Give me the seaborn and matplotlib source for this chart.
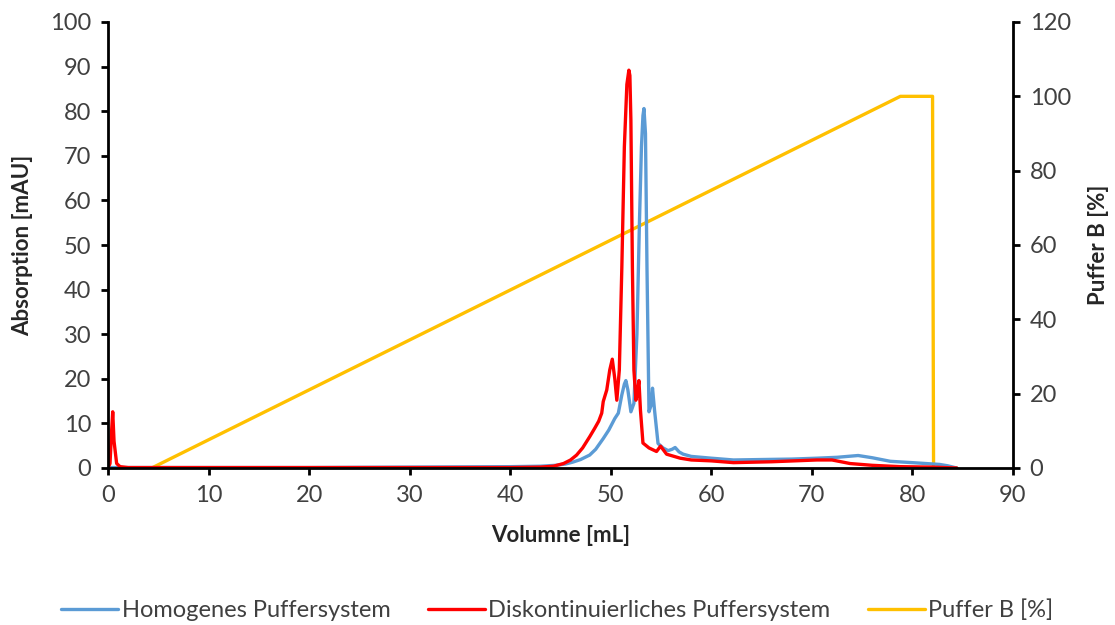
import matplotlib
matplotlib.use("Agg")
import matplotlib.pyplot as plt
import seaborn as sns
import pandas as pd

# ---- data ----
blue_x = [0, 1, 10, 20, 30, 40, 43, 44.5, 45.5, 46.2, 47.0, 47.9, 48.5, 49.25, 49.8,
          50.4, 50.75, 51.1, 51.35, 51.5, 51.7, 52.0, 52.3, 52.6, 52.85, 53.05, 53.2,
          53.3, 53.45, 53.6, 53.8, 54.0, 54.15, 54.35, 54.7, 55.2, 55.7, 56.1, 56.4,
          56.8, 57.2, 58.0, 60, 62.2, 65, 68, 70.5, 72.5, 74.6, 76, 77.8, 80, 82.7,
          83.5, 84.4]
blue_y = [0.1, 0.1, 0.1, 0.1, 0.2, 0.3, 0.4, 0.6, 0.9, 1.3, 1.9, 2.9, 4.2, 6.6, 8.5,
          11.1, 12.3, 16.4, 18.8, 19.6, 17.5, 12.6, 14.5, 30, 55, 72, 79,
          80.6, 75, 45, 12.6, 14, 17.9, 13, 5.5, 4.5, 3.9, 4.2, 4.6,
          3.6, 3.1, 2.6, 2.2, 1.8, 1.9, 2.0, 2.2, 2.4, 2.8, 2.3, 1.5, 1.2, 0.8,
          0.5, 0]

red_x = [0, 0.2, 0.35, 0.47, 0.6, 0.86, 1.2, 2, 10, 20, 30, 40, 43, 44.3, 45.3,
         46.0, 46.6, 47.2, 47.9, 48.4, 48.8, 49.1, 49.25, 49.6, 49.9, 50.15, 50.4,
         50.6, 50.85, 51.1, 51.35, 51.6, 51.8, 51.9, 52.0, 52.15, 52.3, 52.5, 52.65,
         52.8, 52.95, 53.2, 53.8, 54.55, 54.95, 55.55, 56.9, 58, 60, 62.2, 66, 70.5,
         72, 73.8, 76, 78.8, 82, 84.4]
red_y = [0, 1, 8, 12.6, 6, 1, 0.3, 0.1, 0.1, 0.1, 0.1, 0.1, 0.2, 0.4, 1.0,
         1.8, 2.9, 4.5, 7.0, 8.9, 10.5, 12.3, 14.9, 17.5, 22, 24.4, 20,
         15.2, 22, 45, 72, 86, 89.2, 88, 78, 45, 22, 15.2, 17,
         19.6, 13, 5.6, 4.5, 3.7, 4.9, 3.1, 2.2, 1.8, 1.6, 1.2, 1.4, 1.8,
         1.8, 1.0, 0.6, 0.3, 0.2, 0]

puffer_x = [0, 4.35, 78.8, 82.0, 82.1, 84.4]
puffer_y = [0, 0, 100, 100, 0, 0]

x_ticks = list(range(0, 91, 10))
y_ticks = list(range(0, 101, 10))
y2_ticks = list(range(0, 121, 20))

labels = ["Homogenes Puffersystem", "Diskontinuierliches Puffersystem", "Puffer B [%]"]
colors = ["#5B9BD5", "#FF0000", "#FFC000"]

sns.set_style("white")
plt.rcParams['font.family'] = ['Lato', 'DejaVu Sans']

fig = plt.figure(figsize=(11.15, 6.25), dpi=100)
ax = fig.add_axes([108/1115, 1 - 468/625, 905/1115, 446/625])
ax2 = ax.twinx()

df_b = pd.DataFrame({"x": blue_x, "y": blue_y})
df_r = pd.DataFrame({"x": red_x, "y": red_y})
df_p = pd.DataFrame({"x": puffer_x, "y": puffer_y})

lw = 2.4
sns.lineplot(data=df_b, x="x", y="y", ax=ax, color=colors[0], lw=lw, sort=False,
             estimator=None, label=labels[0], legend=False)
sns.lineplot(data=df_r, x="x", y="y", ax=ax, color=colors[1], lw=lw, sort=False,
             estimator=None, label=labels[1], legend=False)
sns.lineplot(data=df_p, x="x", y="y", ax=ax2, color=colors[2], lw=lw, sort=False,
             estimator=None, label=labels[2], legend=False)
ax.set_zorder(ax2.get_zorder() + 1)
ax.patch.set_visible(False)

ax.set_xlim(0, 90)
ax.set_ylim(0, 100)
ax2.set_ylim(0, 120)
ax.set_xticks(x_ticks)
ax.set_yticks(y_ticks)
ax2.set_yticks(y2_ticks)

tick_color = "#404040"
fs_tick = 17
fs_lab = 16
fs_leg = 17
for a in (ax, ax2):
    a.tick_params(axis="both", direction="out", length=5, width=2, color="black",
                  labelsize=fs_tick, labelcolor=tick_color, pad=7)
    a.spines["top"].set_visible(False)
    for s in ("left", "right", "bottom"):
        a.spines[s].set_linewidth(2)
        a.spines[s].set_color("black")
ax.spines["right"].set_visible(False)
ax2.spines["left"].set_visible(False)
ax2.spines["bottom"].set_visible(False)
ax.tick_params(axis="y", left=True, right=False)
ax.tick_params(axis="x", bottom=True)
ax2.tick_params(axis="y", right=True, left=False)

ax.set_xlabel("Volumne [mL]", fontsize=fs_lab, fontweight="bold", labelpad=14)
ax.set_ylabel("Absorption [mAU]", fontsize=fs_lab, fontweight="bold", labelpad=12)
ax2.set_ylabel("Puffer B [%]", fontsize=fs_lab, fontweight="bold", labelpad=12)

handles = ax.get_lines()[:2] + ax2.get_lines()[:1]
fig.legend(handles, labels, loc="center", bbox_to_anchor=(0.5, 1 - 610/625),
           ncol=3, frameon=False, fontsize=fs_leg, handlelength=2.4, columnspacing=1.6,
           handletextpad=0.15, labelcolor=tick_color)

fig.savefig("out.png", dpi=100)
